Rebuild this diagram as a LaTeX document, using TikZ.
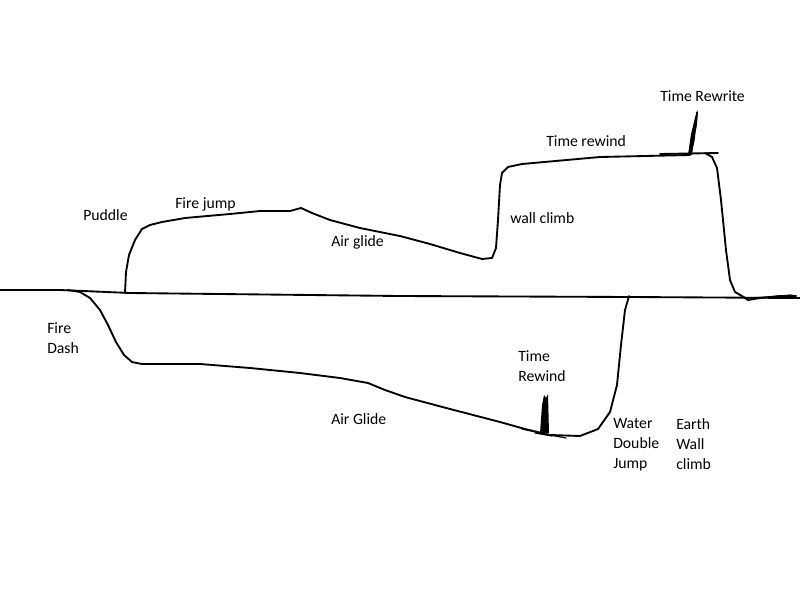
\documentclass[tikz,border=0pt]{standalone}
\usepackage{fontspec}
\setmainfont{Carlito}
\begin{document}
\begin{tikzpicture}[x=0.75pt,y=-0.75pt,
  stroke/.style={line width=1.4pt,line join=round,line cap=round,black},
  lbl/.style={font=\fontsize{11.8}{15}\selectfont,inner sep=0pt,align=left,anchor=north west}]
\useasboundingbox (0,0) rectangle (800,600);
% baseline
\draw[stroke] (0,290) -- (60,290) -- (130,293) -- (400,296) -- (630,297) -- (800,298);
% upper path
\draw[stroke] (125,293) -- (126,272) -- (129,255) -- (135,240) -- (142,229) -- (150,225) -- (162,222)
  -- (185,218) -- (230,214) -- (260,211) -- (290,211) -- (301,208) -- (312,213) -- (330,220)
  -- (360,228) -- (400,236) -- (430,244) -- (460,253) -- (482,259) -- (492,258) -- (496,248)
  -- (498,220) -- (500,185) -- (502,173) -- (508,167) -- (522,164) -- (600,157) -- (690,155);
\draw[stroke] (660,154) -- (718,153);
\draw[stroke] (705,153) -- (712,157) -- (717,168) -- (721,200) -- (726,250) -- (730,280)
  -- (735,292) -- (742,296) -- (748,300) -- (760,298) -- (780,296) -- (796,296);
\draw[stroke,line width=0.9pt] (745,298) -- (770,297) -- (790,295) -- (796,296);
% Time Rewrite scribble
\fill (688,155) -- (691,134) -- (695,118) -- (698,110) -- (697,124) -- (694,140) -- (692,155) -- cycle;
\draw[stroke,line width=1pt] (689,155) -- (692,135) -- (695,122) -- (697,112) -- (696,125) -- (693,142)
  -- (691,154) -- (694,132) -- (696,120) -- (694,140) -- (691,153);
% lower path
\draw[stroke] (68,290) -- (80,292) -- (90,298) -- (100,310) -- (108,325) -- (116,342) -- (124,355)
  -- (132,362) -- (142,364) -- (200,364) -- (250,368) -- (300,373) -- (340,378) -- (368,383)
  -- (385,390) -- (405,397) -- (450,409) -- (500,422) -- (525,429) -- (550,435) -- (580,436)
  -- (598,429) -- (610,412) -- (617,385) -- (621,345) -- (625,310) -- (629,296);
\draw[stroke,line width=0.9pt] (522,429) -- (545,434) -- (566,438);
\draw[stroke,line width=0.9pt] (535,433) -- (552,436);
% Time Rewind scribble
\fill (540,433) -- (542,405) -- (544,395) -- (546,398) -- (548,394) -- (549,433) -- cycle;
% labels
\node[lbl] (puddle) at (83,209) {Puddle};
\node[lbl] (firejump) at (175,197) {Fire jump};
\node[lbl] (airglide) at (331,235) {Air glide};
\node[lbl] (wallclimb) at (510,212) {wall climb};
\node[lbl] (timerewind) at (546,135) {Time rewind};
\node[lbl] (timerewrite) at (660,90) {Time Rewrite};
\node[lbl] (firedash) at (47,322) {Fire\\Dash};
\node[lbl] (timerewind2) at (518,350) {Time\\Rewind};
\node[lbl] (airglide2) at (331,413) {Air Glide};
\node[lbl] (water) at (613,418) {Water\\Double\\Jump};
\node[lbl] (earth) at (676,418) {Earth\\Wall\\climb};
\end{tikzpicture}
\end{document}
